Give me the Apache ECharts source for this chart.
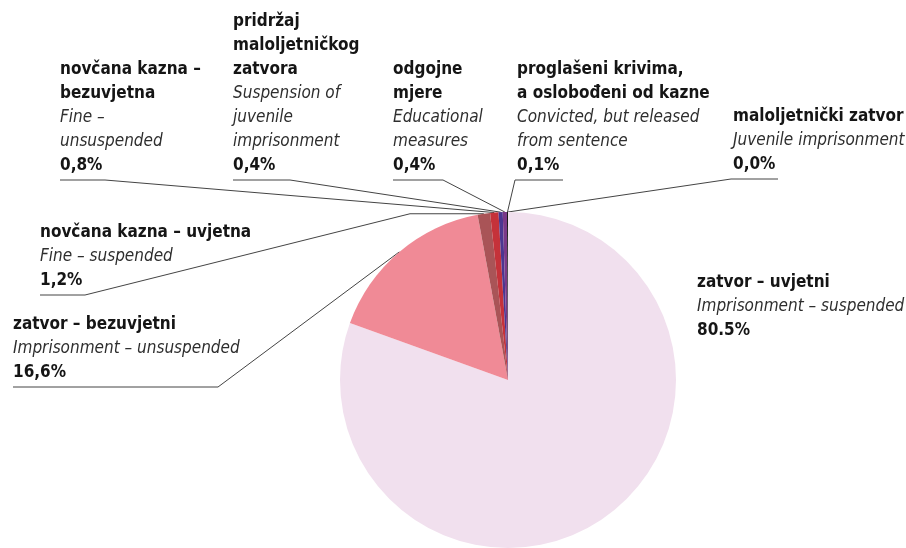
<!DOCTYPE html>
<html>
<head>
<meta charset="utf-8">
<script src="https://cdn.jsdelivr.net/npm/echarts@6/dist/echarts.min.js"></script>
<style>
html,body{margin:0;padding:0;background:#fff;}
#chart{width:906px;height:548px;}
</style>
</head>
<body>
<div id="chart"></div>
<script>
// ---- data ----
const namesHr = [
  "zatvor – uvjetni",
  "zatvor – bezuvjetni",
  "novčana kazna – uvjetna",
  "novčana kazna –\nbezuvjetna",
  "pridržaj\nmaloljetničkog\nzatvora",
  "odgojne\nmjere",
  "proglašeni krivima,\na oslobođeni od kazne",
  "maloljetnički zatvor"
];
const namesEn = [
  "Imprisonment – suspended",
  "Imprisonment – unsuspended",
  "Fine – suspended",
  "Fine –\nunsuspended",
  "Suspension of\njuvenile\nimprisonment",
  "Educational\nmeasures",
  "Convicted, but released\nfrom sentence",
  "Juvenile imprisonment"
];
const values = [80.5, 16.6, 1.2, 0.8, 0.4, 0.4, 0.1, 0.0];
const valueLabels = ["80.5%", "16,6%", "1,2%", "0,8%", "0,4%", "0,4%", "0,1%", "0,0%"];
const colors = ["#f1e0ee", "#f08a96", "#a95457", "#c5323a", "#4b3690", "#7a3888", "#1a1a1a", "#1a1a1a"];

// ---- layout (label placement) ----
const LH = 24;
const labelPos = [
  {x: 697, y: 271, side: 'none', ul: 0},
  {x: 13,  y: 313, side: 'left', ul: 205},
  {x: 40,  y: 221, side: 'left', ul: 45, elbowX: 410},
  {x: 60,  y: 58,  side: 'left', ul: 45},
  {x: 233, y: 10,  side: 'left', ul: 57},
  {x: 393, y: 58,  side: 'left', ul: 50},
  {x: 517, y: 58,  side: 'right', ul: 46},
  {x: 733, y: 105, side: 'right', ul: 45}
];

function lineCount(i) {
  return namesHr[i].split('\n').length + namesEn[i].split('\n').length + 1;
}

function fmt(i) {
  const a = namesHr[i].split('\n').map(s => '{n|' + s + '}');
  const b = namesEn[i].split('\n').map(s => '{e|' + s + '}');
  return a.concat(b).concat(['{n|' + valueLabels[i] + '}']).join('\n');
}

const data = values.map((v, i) => {
  const d = {value: v, name: namesHr[i], itemStyle: {color: colors[i]}};
  if (i === 0) d.labelLine = {show: false};
  return d;
});

const FONT = "'Liberation Sans Narrow', 'DejaVu Sans Condensed', 'Arial Narrow', 'Roboto', sans-serif";

const chart = echarts.init(document.getElementById('chart'), null, {renderer: 'canvas'});
chart.setOption({
  animation: false,
  backgroundColor: '#ffffff',
  series: [{
    type: 'pie',
    center: [508, 380],
    radius: 168,
    startAngle: 90,
    clockwise: true,
    avoidLabelOverlap: false,
    minShowLabelAngle: 0,
    data: data,
    itemStyle: {borderWidth: 0},
    emphasis: {disabled: true},
    label: {
      show: true,
      position: 'outside',
      formatter: p => fmt(p.dataIndex),
      rich: {
        n: {fontFamily: FONT, fontWeight: 'bold', fontSize: 17, lineHeight: LH, color: '#151515'},
        e: {fontFamily: FONT, fontStyle: 'italic', fontSize: 17, lineHeight: LH, color: '#2e2e2e'}
      }
    },
    labelLine: {
      show: true,
      length: 8,
      length2: 8,
      lineStyle: {color: '#444444', width: 1}
    },
    labelLayout: function (params) {
      const i = params.dataIndex;
      const L = labelPos[i];
      const res = {x: L.x, y: L.y, align: 'left', verticalAlign: 'top'};
      if (L.side !== 'none' && params.labelLinePoints) {
        const start = params.labelLinePoints[0];
        const by = L.y + lineCount(i) * LH + 2;
        const pts = [[start[0], start[1]]];
        if (L.elbowX !== undefined) pts.push([L.elbowX, start[1]]);
        if (L.side === 'left') {
          pts.push([L.x + L.ul, by]);
          pts.push([L.x, by]);
        } else {
          pts.push([L.x - 2, by]);
          pts.push([L.x + L.ul, by]);
        }
        res.labelLinePoints = pts;
      }
      return res;
    }
  }]
});
</script>
</body>
</html>
